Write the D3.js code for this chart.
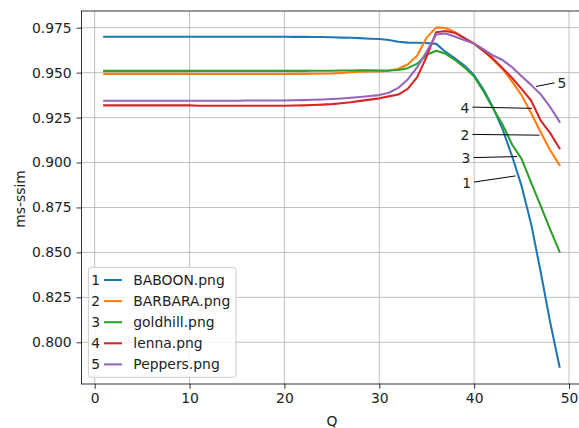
<!DOCTYPE html>
<html>
<head>
<meta charset="utf-8">
<script src="https://cdn.jsdelivr.net/npm/d3@7"></script>
<style>
  html, body { margin: 0; padding: 0; background: #fff; }
  svg { display: block; }
  text { font-family: "DejaVu Sans", sans-serif; }
</style>
</head>
<body>
<svg id="chart" width="579" height="428"></svg>
<script>
// ---------------- DATA ----------------
const Q = [1,2,3,4,5,6,7,8,9,10,11,12,13,14,15,16,17,18,19,20,21,22,23,24,25,26,27,28,29,30,31,32,33,34,35,36,37,38,39,40,41,42,43,44,45,46,47,48,49];

const BABOON = [0.9700,0.9700,0.9700,0.9700,0.9700,0.9700,0.9700,0.9700,0.9700,0.9700,
                0.9700,0.9700,0.9700,0.9700,0.9700,0.9700,0.9700,0.9700,0.9700,0.9700,
                0.9699,0.9699,0.9698,0.9698,0.9697,0.9695,0.9694,0.9692,0.9689,0.9687,
                0.9682,0.9672,0.9667,0.9666,0.9665,0.9660,0.9615,0.9578,0.9538,0.9485,
                0.9405,0.9305,0.9185,0.9035,0.8870,0.8660,0.8395,0.8115,0.7864];

const BARBARA = [0.9493,0.9493,0.9493,0.9493,0.9493,0.9493,0.9493,0.9493,0.9493,0.9493,
                 0.9492,0.9492,0.9492,0.9492,0.9492,0.9492,0.9492,0.9492,0.9492,0.9492,
                 0.9493,0.9493,0.9494,0.9494,0.9495,0.9498,0.9502,0.9505,0.9506,0.9507,
                 0.9510,0.9522,0.9545,0.9595,0.9695,0.9752,0.9748,0.9725,0.9690,0.9663,
                 0.9625,0.9570,0.9520,0.9450,0.9375,0.9275,0.9170,0.9070,0.8986];

const GOLDHILL = [0.9510,0.9510,0.9510,0.9510,0.9510,0.9510,0.9510,0.9510,0.9510,0.9510,
                  0.9510,0.9510,0.9510,0.9510,0.9510,0.9510,0.9510,0.9510,0.9510,0.9510,
                  0.9510,0.9510,0.9511,0.9511,0.9511,0.9512,0.9512,0.9513,0.9513,0.9512,
                  0.9512,0.9515,0.9525,0.9550,0.9600,0.9622,0.9605,0.9570,0.9528,0.9478,
                  0.9395,0.9300,0.9210,0.9100,0.9020,0.8890,0.8760,0.8630,0.8504];

const LENNA = [0.9318,0.9318,0.9318,0.9318,0.9318,0.9318,0.9318,0.9318,0.9318,0.9318,
               0.9316,0.9316,0.9316,0.9316,0.9316,0.9316,0.9316,0.9316,0.9316,0.9316,
               0.9317,0.9318,0.9320,0.9322,0.9325,0.9330,0.9335,0.9343,0.9350,0.9357,
               0.9368,0.9378,0.9410,0.9475,0.9590,0.9725,0.9732,0.9720,0.9692,0.9660,
               0.9620,0.9578,0.9525,0.9470,0.9410,0.9345,0.9235,0.9165,0.9079];

const PEPPERS = [0.9344,0.9344,0.9344,0.9344,0.9344,0.9344,0.9344,0.9344,0.9344,0.9344,
                 0.9344,0.9344,0.9344,0.9344,0.9344,0.9345,0.9345,0.9345,0.9345,0.9345,
                 0.9346,0.9347,0.9349,0.9351,0.9353,0.9356,0.9360,0.9365,0.9370,0.9375,
                 0.9388,0.9415,0.9462,0.9530,0.9617,0.9712,0.9718,0.9700,0.9680,0.9662,
                 0.9630,0.9595,0.9570,0.9530,0.9480,0.9432,0.9380,0.9310,0.9227];

const seriesNames = ["BABOON.png","BARBARA.png","goldhill.png","lenna.png","Peppers.png"];
const seriesNums = ["1","2","3","4","5"];
const seriesValues = [BABOON, BARBARA, GOLDHILL, LENNA, PEPPERS];
const colors = ["#1f77b4","#ff7f0e","#2ca02c","#d62728","#9467bd"];

const xTicks = [0,10,20,30,40,50];
const yTicks = [0.800,0.825,0.850,0.875,0.900,0.925,0.950,0.975];

// annotations: series index, Q of pointed location, text position (data coords)
const annotSeries = [0,1,2,3,4];
const annotQ      = [44.65, 47.18, 44.83, 46.4, 46.23];
const annotTextQ  = [39.2, 39.03, 39.14, 39.03, 49.26];
const annotTextV  = [0.8888, 0.9153, 0.9024, 0.9305, 0.9440];

// ---------------- LAYOUT ----------------
const svg = d3.select("#chart");
const L = 81.4, R = 582.3, T = 11, B = 384;
const x = d3.scaleLinear().domain([-1.4, 51.4]).range([L, R]);
const y = d3.scaleLinear().domain([0.77680, 0.98429]).range([B, T]);
const FS = 13.9;

// grid
const grid = svg.append("g");
grid.selectAll(".gx").data(xTicks).enter().append("line")
  .attr("x1", d => x(d)).attr("x2", d => x(d)).attr("y1", T).attr("y2", B)
  .attr("stroke", "#b0b0b0").attr("stroke-width", 0.8);
grid.selectAll(".gy").data(yTicks).enter().append("line")
  .attr("x1", L).attr("x2", R).attr("y1", d => y(d)).attr("y2", d => y(d))
  .attr("stroke", "#b0b0b0").attr("stroke-width", 0.8);

// lines
const line = d3.line().x((d, i) => x(Q[i])).y(d => y(d));
svg.append("g").selectAll("path").data(seriesValues).enter().append("path")
  .attr("d", d => line(d))
  .attr("fill", "none")
  .attr("stroke", (d, i) => colors[i])
  .attr("stroke-width", 2.08)
  .attr("stroke-linejoin", "round")
  .attr("stroke-linecap", "square");

// axes
const xAxis = d3.axisBottom(x).tickValues(xTicks).tickSize(4.86).tickPadding(4.2).tickFormat(d3.format("d"));
const yAxis = d3.axisLeft(y).tickValues(yTicks).tickSize(4.86).tickPadding(4.86).tickFormat(d3.format(".3f"));

const gx = svg.append("g").attr("transform", `translate(0,${B})`).call(xAxis);
const gy = svg.append("g").attr("transform", `translate(${L},0)`).call(yAxis);
[gx, gy].forEach(g => {
  g.select(".domain").remove();
  g.selectAll(".tick line").attr("stroke", "#000").attr("stroke-width", 0.8);
  g.selectAll(".tick text").attr("fill", "#222").style("font-size", FS + "px")
    .style("font-family", "'DejaVu Sans', sans-serif");
});

// spines
svg.append("rect").attr("x", L).attr("y", T).attr("width", R - L).attr("height", B - T)
  .attr("fill", "none").attr("stroke", "#000").attr("stroke-width", 0.8);

// axis labels
svg.append("text").attr("x", (L + R) / 2).attr("y", 426.3).attr("text-anchor", "middle")
  .style("font-size", FS + "px").attr("fill", "#222").text("Q");
svg.append("text").attr("transform", `translate(25,199) rotate(-90)`).attr("text-anchor", "middle")
  .style("font-size", FS + "px").attr("fill", "#222").text("ms-ssim");

// annotations
function valueAt(vals, q) {
  const i = Math.floor(q) - 1;
  const t = q - Math.floor(q);
  return vals[i] + (vals[i + 1] - vals[i]) * t;
}
const ann = svg.append("g");
annotSeries.forEach((s, k) => {
  const px = x(annotQ[k]), py = y(valueAt(seriesValues[s], annotQ[k]));
  const tx = x(annotTextQ[k]), ty = y(annotTextV[k]);
  const dir = px > tx ? 1 : -1;
  const sx = tx + dir * 7.5, sy = ty - 0.6;
  const dx = px - sx, dy = py - sy, len = Math.hypot(dx, dy);
  const ex = px - dx / len * 2.8, ey = py - dy / len * 2.8;
  ann.append("line").attr("x1", sx).attr("y1", sy).attr("x2", ex).attr("y2", ey)
    .attr("stroke", "#000").attr("stroke-width", 1);
  ann.append("text").attr("x", tx).attr("y", ty + 0.3645 * FS).attr("text-anchor", "middle")
    .style("font-size", FS + "px").attr("fill", "#222").text(seriesNums[s]);
});

// legend
const lg = svg.append("g");
const lgX = 88.4, lgY = 267.3, lgW = 147.6, lgH = 110;
lg.append("rect").attr("x", lgX).attr("y", lgY).attr("width", lgW).attr("height", lgH)
  .attr("rx", 3).attr("ry", 3)
  .attr("fill", "#fff").attr("fill-opacity", 0.8)
  .attr("stroke", "#cccccc").attr("stroke-width", 1);
seriesNames.forEach((name, i) => {
  const cy = 280 + i * 21.1;
  lg.append("text").attr("x", 95.7).attr("y", cy + 0.3645 * FS).attr("text-anchor", "middle")
    .style("font-size", FS + "px").attr("fill", "#222").text(seriesNums[i]);
  lg.append("line").attr("x1", 104).attr("x2", 122).attr("y1", cy).attr("y2", cy)
    .attr("stroke", colors[i]).attr("stroke-width", 2.08);
  lg.append("text").attr("x", 133.3).attr("y", cy + 0.3645 * FS)
    .style("font-size", FS + "px").attr("fill", "#222").text(name);
});
</script>
</body>
</html>
